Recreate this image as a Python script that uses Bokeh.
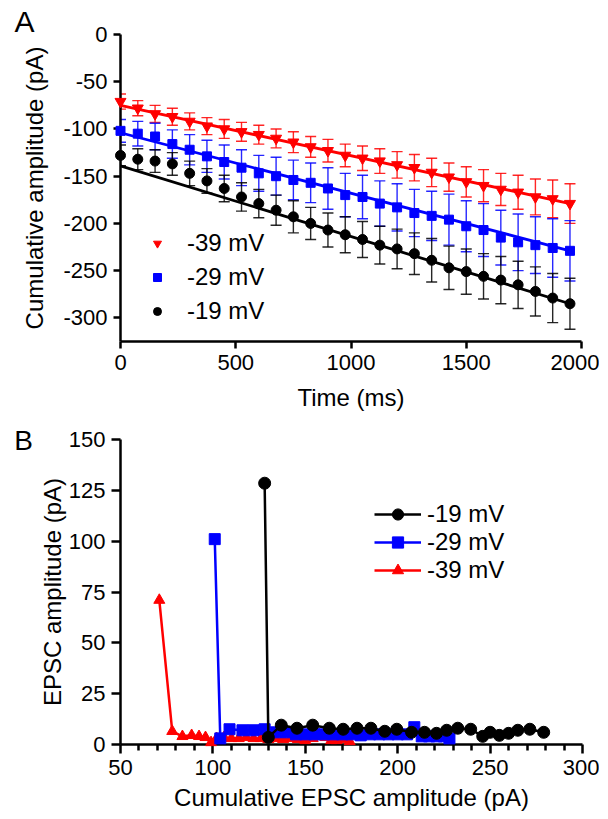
from bokeh.plotting import figure
from bokeh.models import (ColumnDataSource, Whisker, TeeHead, Range1d, Legend,
                          LegendItem, FixedTicker)
from bokeh.layouts import column
from bokeh.embed import file_html
from bokeh.resources import INLINE
from bokeh.core.properties import value

FONT = "Liberation Sans"

# ---------------- Panel A data ----------------
time_ms = [0, 75, 150, 225, 300, 375, 450, 525, 600, 675, 750, 825, 900, 975,
           1050, 1125, 1200, 1275, 1350, 1425, 1500, 1575, 1650, 1725, 1800,
           1875, 1950]
red_mean = [-71, -78, -84, -87, -92, -97, -100, -103, -106, -110, -114, -119,
            -123, -128, -131, -134, -138, -141, -146, -151, -156, -160, -164,
            -167, -172, -174, -179]
red_err = [8, 8, 9, 9, 9, 9, 10, 10, 10, 10, 11, 11, 12, 12, 13, 13, 14, 14,
           15, 15, 16, 17, 17, 18, 19, 20, 21]
blue_mean = [-102, -105, -108, -116, -122, -129, -135, -141, -147, -150, -154,
             -157, -163, -170, -172, -179, -183, -189, -192, -196, -203, -207,
             -215, -220, -223, -226, -229]
blue_err = [12, 13, 14, 15, 16, 17, 18, 19, 19, 20, 21, 21, 22, 23, 23, 24, 25,
            25, 26, 27, 27, 28, 29, 30, 30, 31, 32]
black_mean = [-128, -132, -134, -137, -147, -155, -163, -172, -179, -186,
              -193, -200, -207, -212, -217, -223, -227, -232, -239, -247,
              -251, -256, -260, -265, -272, -279, -285]
black_err = [11, 11, 12, 12, 13, 13, 14, 15, 15, 16, 17, 17, 18, 19, 19, 20,
             21, 22, 23, 23, 24, 24, 25, 25, 26, 26, 27]
fit_t = [0, 1950]
red_fit = [-75, -179]
blue_fit = [-104, -229]
black_fit = [-139, -285]
a_xticks = [0, 500, 1000, 1500, 2000]
a_yticks = [0, -50, -100, -150, -200, -250, -300]

# ---------------- Panel B data ----------------
b_black_x = [128, 130, 137, 145.5, 154, 163, 170.5, 178, 185.5, 193, 199.5,
             207.5, 214.5, 221, 226.5, 232.5, 239.5, 246, 250, 255, 260, 265,
             271.5, 279]
b_black_y = [128.5, 3.5, 9.5, 8, 9.5, 8, 7.5, 8, 8, 6.5, 7.5, 6, 6, 5.5, 7, 8,
             7.5, 4, 6, 4.5, 5.5, 7, 7.5, 6]
b_blue_x = [101, 104, 109, 116, 122, 128, 134, 140, 145, 150, 155, 160, 165,
            170, 175, 180, 185, 190, 195, 200, 205, 209, 213, 217, 221, 225,
            228]
b_blue_y = [101, 3, 7.5, 7, 7, 7.5, 6, 6, 5, 5, 5, 5, 5, 5, 5, 4.5, 5, 5, 5,
            5, 5, 8.5, 4, 4, 4, 4, 3]
b_red_x = [71, 78, 83.5, 88.5, 92.5, 96, 99, 102, 106, 110, 114, 118, 122,
           126, 130, 134, 138, 142, 146, 150, 154, 158, 161, 164, 167, 171, 174]
b_red_y = [71, 6.5, 4, 4.5, 4, 3.5, 1, 3, 3.5, 3, 3, 3.5, 3, 3, 2.5, 3, 2.5, 3,
           2.5, 2, 3, 4, 3.5, 2, 2, 2.5, 1.5]
b_xticks = [50, 100, 150, 200, 250, 300]
b_xminor = [60, 70, 80, 90, 110, 120, 130, 140, 160, 170, 180, 190, 210, 220,
            230, 240, 260, 270, 280, 290]
b_yticks = [0, 25, 50, 75, 100, 125, 150]

panel_letters = ["A", "B"]

RED = "#ff0000"
BLUE = "#0000ff"
BLACK = "#000000"


def style_axes(p, major_len):
    for ax in (p.xaxis[0], p.yaxis[0]):
        ax.axis_line_width = 2.5
        ax.axis_line_color = "black"
        ax.major_tick_line_width = 2.5
        ax.major_tick_line_color = "black"
        ax.major_tick_out = major_len
        ax.major_tick_in = 0
        ax.minor_tick_line_color = None
        ax.major_label_text_font = FONT
        ax.major_label_text_font_size = "22px"
        ax.major_label_text_color = "black"
        ax.major_label_standoff = 6
        ax.axis_label_text_font = FONT
        ax.axis_label_text_font_size = "24px"
        ax.axis_label_text_font_style = "normal"
        ax.axis_label_text_color = "black"
        ax.axis_label_standoff = 6
    p.grid.visible = False
    p.outline_line_color = None
    p.background_fill_color = "white"
    p.border_fill_color = "white"


# ---------------- Panel A ----------------
pA = figure(frame_width=461, frame_height=307, min_border_left=120,
            min_border_right=18, min_border_top=34, min_border_bottom=80,
            x_range=Range1d(0, 2000), y_range=Range1d(-325, 0),
            output_backend="svg", toolbar_location=None)
style_axes(pA, 7)
pA.xaxis.ticker = FixedTicker(ticks=a_xticks)
pA.yaxis.ticker = FixedTicker(ticks=a_yticks)
pA.yaxis.major_label_overrides = {t: str(t) for t in a_yticks}
pA.xaxis.axis_label = "Time (ms)"
pA.yaxis.axis_label = "Cumulative amplitude (pA)"
pA.xaxis.axis_label_standoff = 11
pA.yaxis.axis_label_standoff = 12

series_a = [
    (red_mean, red_err, red_fit, RED, "inverted_triangle", 11, "-39 mV"),
    (blue_mean, blue_err, blue_fit, BLUE, "square", 9, "-29 mV"),
    (black_mean, black_err, black_fit, BLACK, "circle", 10, "-19 mV"),
]
legend_a_items = []
for mean, err, fit, col, mk, sz, lab in series_a:
    src = ColumnDataSource(dict(
        t=time_ms, m=mean,
        up=[m + e for m, e in zip(mean, err)],
        lo=[m - e for m, e in zip(mean, err)]))
    w = Whisker(source=src, base="t", upper="up", lower="lo",
                line_color=col, line_width=1.4, line_alpha=0.85,
                upper_head=TeeHead(size=11, line_color=col, line_width=1.4, line_alpha=0.85),
                lower_head=TeeHead(size=11, line_color=col, line_width=1.4, line_alpha=0.85))
    pA.add_layout(w)
    pA.line(fit_t, fit, line_color=col, line_width=2.8)
    r = pA.scatter("t", "m", source=src, marker=mk, size=sz, fill_color=col,
                   line_color=col, level="overlay")
    legend_a_items.append(LegendItem(label=lab, renderers=[r]))

legA = Legend(items=legend_a_items, location=(27, 13), orientation="vertical",
              glyph_width=20, glyph_height=34, label_height=34, spacing=0,
              padding=0, margin=0, label_standoff=20,
              label_text_font=FONT, label_text_font_size="24px",
              label_text_color="black",
              background_fill_alpha=0, border_line_color=None)
pA.add_layout(legA)
# panel letter, placed just outside the frame (not clipped at overlay level)
pA.text(x=[-460], y=[13.5], text=[panel_letters[0]], text_font=value(FONT),
        text_font_size="30px", text_baseline="alphabetic", text_align="left",
        text_color="black", level="overlay")

# ---------------- Panel B ----------------
pB = figure(frame_width=462, frame_height=305, min_border_left=120,
            min_border_right=17, min_border_top=18, min_border_bottom=70,
            x_range=Range1d(50, 300), y_range=Range1d(0, 150),
            output_backend="svg", toolbar_location=None)
style_axes(pB, 9)
pB.xaxis.ticker = FixedTicker(ticks=b_xticks, minor_ticks=b_xminor)
pB.xaxis.minor_tick_line_color = "black"
pB.xaxis.minor_tick_line_width = 2.5
pB.xaxis.minor_tick_out = 6
pB.xaxis.minor_tick_in = 0
pB.yaxis.ticker = FixedTicker(ticks=b_yticks)
pB.xaxis.axis_label = "Cumulative EPSC amplitude (pA)"
pB.yaxis.axis_label = "EPSC amplitude (pA)"
pB.yaxis.axis_label_standoff = 0

series_b = [
    (b_red_x, b_red_y, RED, "triangle", 11, "-39 mV"),
    (b_blue_x, b_blue_y, BLUE, "square", 11, "-29 mV"),
    (b_black_x, b_black_y, BLACK, "circle", 12, "-19 mV"),
]
legend_b = {}
for xs, ys, col, mk, sz, lab in series_b:
    src = ColumnDataSource(dict(x=xs, y=ys))
    rl = pB.line("x", "y", source=src, line_color=col, line_width=2.5,
                 level="overlay")
    rs = pB.scatter("x", "y", source=src, marker=mk, size=sz, fill_color=col,
                    line_color=col, level="overlay")
    legend_b[lab] = [rl, rs]

legB = Legend(items=[LegendItem(label=k, renderers=legend_b[k])
                     for k in ["-19 mV", "-29 mV", "-39 mV"]],
              location=(254, 160), orientation="vertical",
              glyph_width=47, glyph_height=28, label_height=28, spacing=0,
              padding=0, margin=0, label_standoff=6,
              label_text_font=FONT, label_text_font_size="24px",
              label_text_color="black",
              background_fill_alpha=0, border_line_color=None)
pB.add_layout(legB)
pB.text(x=[-7.5], y=[149.5], text=[panel_letters[1]], text_font=value(FONT),
        text_font_size="28px", text_baseline="alphabetic", text_align="left",
        text_color="black", level="overlay")

layout = column(pA, pB, spacing=0)
open("out.html", "w").write(file_html(layout, INLINE))
